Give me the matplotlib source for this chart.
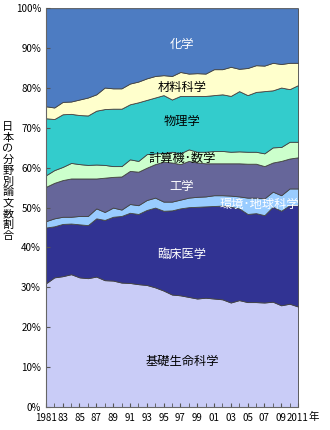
import numpy as np
import matplotlib.pyplot as plt
from matplotlib.ticker import MultipleLocator, FuncFormatter

plt.rcParams['font.family'] = ['Noto Sans CJK JP', 'DejaVu Sans']

# --- データ（%） ---
years = list(range(1981, 2012))

basic_life = [31.0, 32.5, 32.8, 33.3, 32.5, 32.3, 32.7, 31.8, 31.7, 31.2, 31.1, 30.8, 30.6, 30.0, 29.2, 28.2,
              28.0, 27.6, 27.2, 27.4, 27.2, 27.0, 26.2, 26.8, 26.3, 26.3, 26.2, 26.4, 25.5, 25.9, 25.2]
clinical = [14.0, 12.8, 13.1, 12.7, 13.3, 13.3, 14.6, 15.1, 16.0, 16.7, 17.6, 17.6, 18.8, 20.0, 20.0, 21.1,
            21.8, 22.5, 23.0, 22.9, 23.2, 23.5, 24.0, 23.0, 22.1, 22.3, 21.9, 23.8, 23.7, 24.7, 25.4]
environment = [1.6, 2.0, 1.8, 1.7, 2.1, 2.3, 2.5, 2.0, 2.3, 1.6, 2.2, 2.2, 2.5, 2.5, 2.3, 2.2,
               2.2, 2.4, 2.5, 2.5, 2.7, 2.6, 2.8, 3.0, 4.1, 3.9, 4.2, 3.8, 3.9, 4.2, 4.2]
engineering = [8.6, 8.9, 9.2, 9.6, 9.4, 9.4, 7.5, 8.6, 7.7, 8.3, 8.3, 8.4, 8.1, 8.4, 10.0, 9.8,
               8.9, 9.2, 8.6, 8.3, 8.0, 8.0, 8.1, 8.3, 8.5, 8.5, 8.1, 7.3, 8.6, 7.5, 7.8]
computer_math = [2.9, 3.2, 3.3, 3.9, 3.6, 3.4, 3.5, 3.2, 2.7, 2.6, 2.9, 2.7, 3.4, 2.7, 2.2, 2.7,
                 2.7, 2.9, 2.7, 2.9, 3.1, 3.1, 2.9, 3.0, 3.0, 3.0, 3.2, 3.8, 3.5, 4.2, 3.9]
physics = [14.3, 12.8, 13.2, 12.3, 12.3, 12.4, 13.5, 14.0, 14.4, 14.4, 13.8, 14.7, 13.6, 14.0, 14.5, 13.1,
           14.4, 13.4, 14.0, 14.0, 14.0, 14.2, 14.0, 15.1, 14.2, 15.0, 15.6, 14.3, 14.9, 13.2, 14.2]
materials = [3.0, 2.9, 3.1, 3.1, 3.9, 4.5, 4.1, 5.4, 5.1, 5.1, 5.2, 5.2, 5.4, 5.4, 5.0, 5.9,
             6.0, 5.6, 5.7, 5.6, 6.5, 6.3, 7.3, 5.6, 6.8, 6.7, 6.4, 6.9, 5.9, 6.6, 5.6]
chemistry = [24.6, 24.9, 23.5, 23.4, 22.9, 22.4, 21.6, 19.9, 20.1, 20.1, 18.9, 18.4, 17.6, 17.0, 16.8, 17.0,
             16.0, 16.4, 16.3, 16.4, 15.3, 15.3, 14.7, 15.2, 15.0, 14.3, 14.4, 13.7, 14.0, 13.7, 13.7]

series = [basic_life, clinical, environment, engineering, computer_math, physics, materials, chemistry]
colors = ['#C9CCF7', '#313393', '#99CCFF', '#66669A', '#CCFFCC', '#33CCCC', '#FFFFCC', '#4D7CC2']

# ラベル: (文字, x年, y%, 色)
labels = [
    ('化学', 1997.2, 91.0, 'white'),
    ('材料科学', 1997.2, 80.0, 'black'),
    ('物理学', 1997.2, 71.7, 'black'),
    ('計算機･数学', 1997.2, 62.4, 'black'),
    ('工学', 1997.2, 55.4, 'white'),
    ('環境･地球科学', 2006.4, 50.9, 'white'),
    ('臨床医学', 1997.2, 38.3, 'white'),
    ('基礎生命科学', 1997.2, 11.5, 'black'),
]

fig = plt.figure(figsize=(3.3, 4.3), dpi=100)
ax = fig.add_axes([0.139, 0.0535, 0.764, 0.9275])

ax.stackplot(years, *series, colors=colors, edgecolor='#444444', linewidth=0.6)

ax.set_xlim(1981, 2011)
ax.set_ylim(0, 100)

for text, x, y, c in labels:
    ax.text(x, y, text, ha='center', va='center', fontsize=8.8, color=c)

# 軸
ax.yaxis.set_major_locator(MultipleLocator(10))
ax.yaxis.set_major_formatter(FuncFormatter(lambda v, p: f'{int(v)}%'))
xt = list(range(1981, 2012, 2))
ax.set_xticks(xt)
ax.set_xticklabels([str(y) if y in (1981, 2011) else f'{y % 100:02d}' for y in xt])
ax.xaxis.set_minor_locator(MultipleLocator(1))
ax.tick_params(axis='both', direction='in', labelsize=7, length=3, color='#555555')
ax.tick_params(axis='x', which='minor', direction='in', length=3, color='#555555')
ax.tick_params(axis='x', pad=4)
for s in ['top', 'right']:
    ax.spines[s].set_visible(False)
for s in ['left', 'bottom']:
    ax.spines[s].set_color('#666666')

ax.text(1.043, -0.012, '年', transform=ax.transAxes, ha='left', va='top', fontsize=7.5)

fig.text(0.024, 0.578, '\n'.join('日本の分野別論文数割合'), ha='center', va='center',
         fontsize=8, linespacing=1.12)

plt.savefig('out.png', dpi=100)
